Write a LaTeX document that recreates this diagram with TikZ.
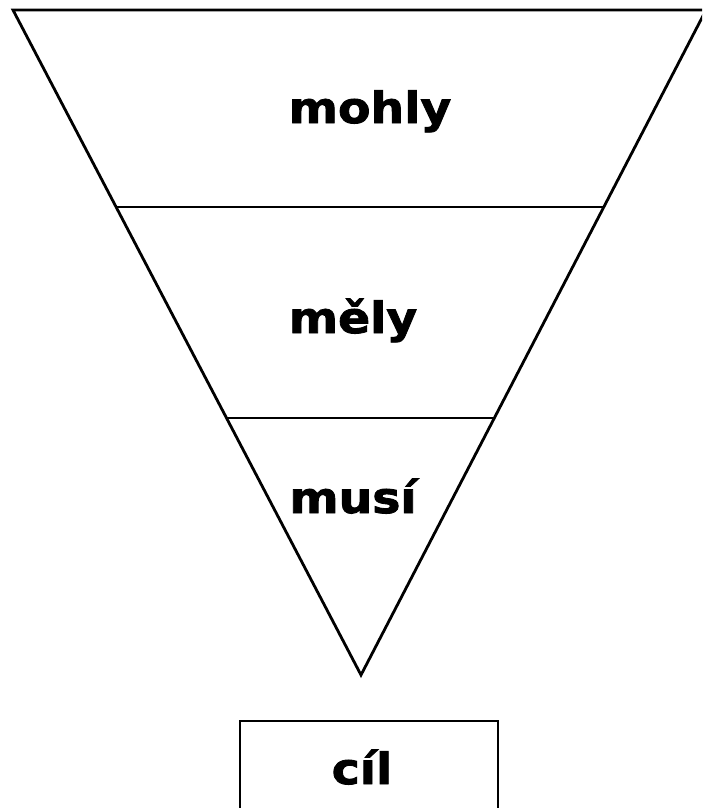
\documentclass[tikz,border=0pt]{standalone}
\usepackage{fontspec}
\newfontfamily\labelfont[FakeStretch=1.1,FakeBold=2]{DejaVu Sans Bold}
\begin{document}
\begin{tikzpicture}[x=1pt,y=-1pt,
  edge/.style={line width=2.8pt, line join=miter},
  lbl/.style={font=\labelfont\fontsize{43}{48}\selectfont, anchor=base, inner sep=0pt}]
\useasboundingbox (0,0) rectangle (702,808);
\clip (0,0) rectangle (702,808);
\coordinate (tl) at (13,10);
\coordinate (tr) at (706,10);
\coordinate (apex) at (361,675);
\coordinate (l1) at (116.1,207);
\coordinate (r1) at (603.8,207);
\coordinate (l2) at (226.5,418);
\coordinate (r2) at (494.3,418);
\draw[edge] (tl) -- (tr) -- (apex) -- cycle;
\draw[edge] (l1) -- (r1);
\draw[edge] (l2) -- (r2);
\coordinate (bl) at (240,721);
\coordinate (br) at (498,850);
\draw[edge] (bl) rectangle (br);
\node[lbl] (mohly) at (370,123) {mohly};
\node[lbl] (mely) at (353,333) {měly};
\node[lbl] (musi) at (353,513) {musí};
\node[lbl] (cil) at (362,784) {cíl};
\end{tikzpicture}
\end{document}
